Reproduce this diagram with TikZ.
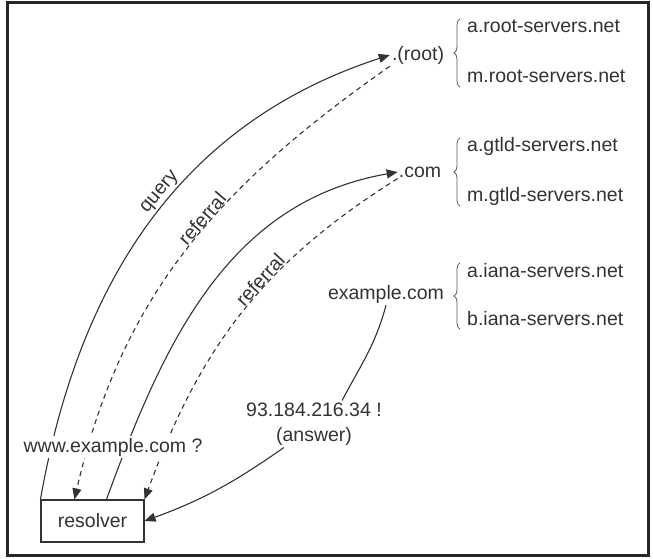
\documentclass[tikz,border=0pt]{standalone}
\usepackage{fontspec}
\setmainfont{Liberation Sans}
\usepackage{xcolor}
\usepackage{tikz}
\usetikzlibrary{arrows.meta}
\usetikzlibrary{decorations.pathreplacing}
\definecolor{ink}{HTML}{333333}
\tikzset{host/.style={font=\fontsize{19.5}{25}\selectfont,text=ink,inner sep=2pt},
srv/.style={host,anchor=west,inner sep=0pt,text height=14pt,text depth=4pt},
hop/.style={draw=ink,line width=1.1pt,-{Triangle[length=11pt,width=9pt]}},
reply/.style={hop,dash pattern=on 5pt off 4pt}}
\begin{document}
\begin{tikzpicture}[x=1pt,y=1pt]
\useasboundingbox(0,0)rectangle(653,558);
\draw[line width=3pt,draw=black!85](7,3)rectangle(648,555);

\node[host,draw=ink,line width=1.1pt,minimum width=103pt,minimum height=42pt,inner sep=0pt](resolver)at(92.5,37){resolver};
\node[host](root)at(418,503){.(root)};
\node[host,inner sep=1pt](com)at(420,386){.com};
\node[host](example)at(386,264){example.com};
\node[host,align=center](answer)at(314,134){93.184.216.34 !\\(answer)};

\node[srv](aroot)at(467,530){a.root-servers.net};
\node[srv](mroot)at(467,480){m.root-servers.net};
\node[srv](agtld)at(467,411){a.gtld-servers.net};
\node[srv](mgtld)at(467,361){m.gtld-servers.net};
\node[srv](aiana)at(467,286){a.iana-servers.net};
\node[srv](biana)at(467,238){b.iana-servers.net};
\foreach\a/\b in{aroot/mroot,agtld/mgtld,aiana/biana}
\draw[ink!80,line width=0.8pt,decoration={brace,amplitude=6pt},decorate]([xshift=-7pt]\b.south west)--([xshift=-7pt]\a.north west);

\draw[hop](resolver.north west)to[out=80,in=198]node[host,sloped,above,inner sep=2.5pt,pos=0.55]{query}(root.west);
\draw[reply](root.south west)to[out=215,in=77]node[host,sloped,above,inner sep=0pt,pos=0.43]{referral}(resolver.130);
\draw[hop](resolver.57)to[out=70,in=190](com.west);
\draw[reply](com.south west)to[out=212,in=70]node[host,sloped,above,inner sep=0pt,pos=0.4]{referral}(resolver.north east);
\draw[draw=ink,line width=1.1pt](example.south)to[out=-105,in=62](answer.40);
\draw[hop](answer.218)to[out=-145,in=20](resolver.east);

\node[host,fill=white,inner sep=1.5pt](ask)at(113,111){www.example.com ?};
\end{tikzpicture}
\end{document}
